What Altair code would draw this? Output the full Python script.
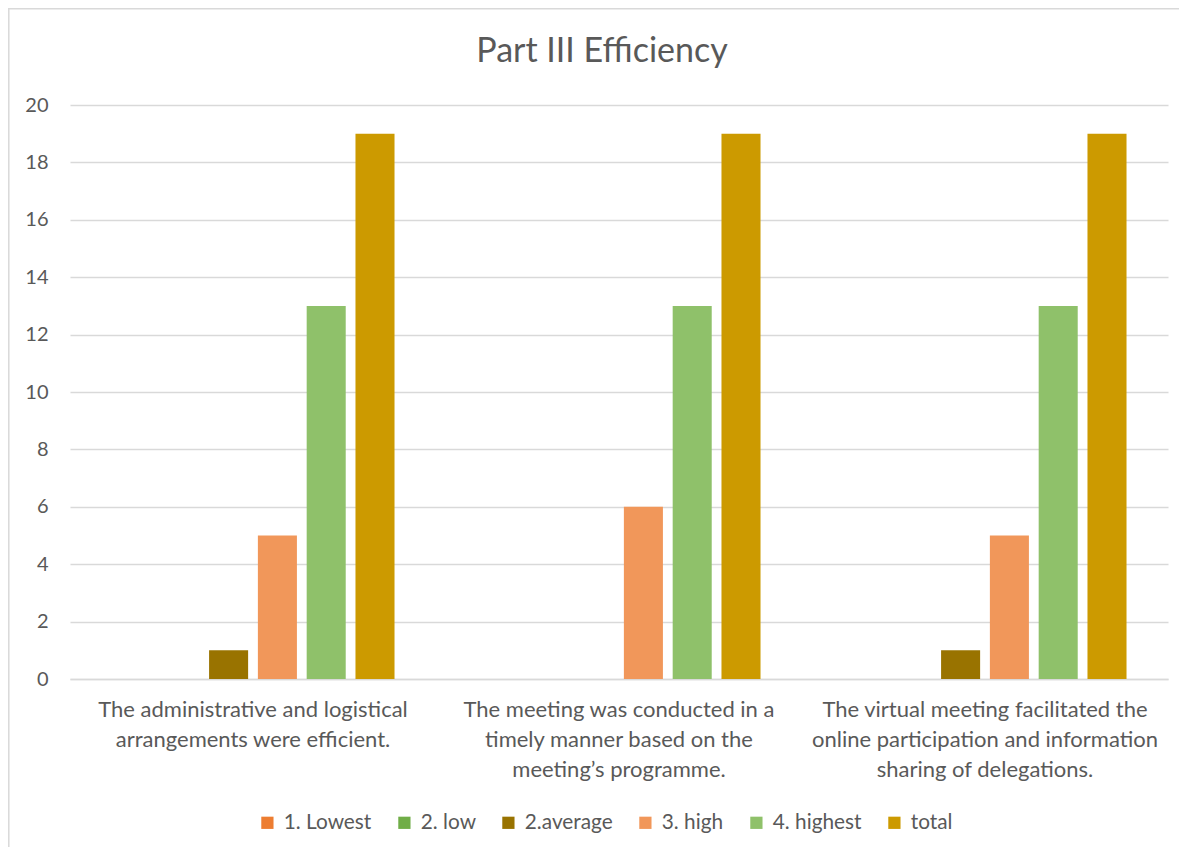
import altair as alt
import pandas as pd

category_lines = [
    ["The administrative and logistical", "arrangements were efficient."],
    ["The meeting was conducted in a", "timely manner based on the", "meeting\u2019s programme."],
    ["The virtual meeting facilitated the", "online participation and information", "sharing of delegations."],
]
categories = [" ".join(l) for l in category_lines]
series = ["1. Lowest", "2. low", "2.average", "3. high", "4. highest", "total"]
colors = ["#ED7D31", "#70AD47", "#997300", "#F1975A", "#8FC16A", "#CC9A00"]

v_lowest = [0, 0, 0]
v_low = [0, 0, 0]
v_average = [1, 0, 1]
v_high = [5, 6, 5]
v_highest = [13, 13, 13]
v_total = [19, 19, 19]

y_ticks = [0, 2, 4, 6, 8, 10, 12, 14, 16, 18, 20]

rows = []
for s, vals in zip(series, [v_lowest, v_low, v_average, v_high, v_highest, v_total]):
    for c, v in zip(categories, vals):
        rows.append({"category": c, "series": s, "value": v})
df = pd.DataFrame(rows)

label_map = "{" + ",".join(
    "'" + c.replace("'", "\\'") + "':[" + ",".join("'" + x.replace("'", "\\'") + "'" for x in l) + "]"
    for c, l in zip(categories, category_lines)
) + "}"

FONT = "Lato"
GREY = "#595959"
W, H = 1098, 574
PAD = {"left": 62, "top": 97, "right": 13, "bottom": 170}

bars = alt.Chart(df).mark_bar().encode(
    x=alt.X("category:N", sort=categories, title=None,
            scale=alt.Scale(paddingInner=0, paddingOuter=0),
            axis=alt.Axis(labelAngle=0, labelExpr=label_map + "[datum.label]",
                          labelFont=FONT, labelFontSize=22, labelColor=GREY,
                          labelPadding=20, labelLineHeight=30, ticks=False,
                          domainColor="#D9D9D9", domainWidth=1.3, labelLimit=400)),
    xOffset=alt.XOffset("series:N", sort=series,
                        scale=alt.Scale(paddingInner=0.2, paddingOuter=0.85)),
    y=alt.Y("value:Q", title=None,
            scale=alt.Scale(domain=[0, 20]),
            axis=alt.Axis(values=y_ticks, labelFont=FONT, labelFontSize=20,
                          labelColor=GREY, labelPadding=22, ticks=False,
                          domain=False, gridColor="#D9D9D9", gridWidth=1.3)),
    color=alt.Color("series:N", sort=series,
                    scale=alt.Scale(domain=series, range=colors),
                    legend=alt.Legend(title=None, orient="none", direction="horizontal",
                                      legendX=187, legendY=707,
                                      symbolType="square", symbolSize=150,
                                      symbolStrokeWidth=0,
                                      labelFont=FONT, labelFontSize=20.8, labelColor=GREY,
                                      labelOffset=6, columnPadding=22)),
)

one = pd.DataFrame({"a": [0]})
frame_left = alt.Chart(one).mark_rule(
    stroke="#D9D9D9", strokeWidth=1.5, clip=False
).encode(x=alt.value(-61.2), y=alt.value(-96.9), y2=alt.value(H + PAD["bottom"] - 2))
frame_top = alt.Chart(one).mark_rule(
    stroke="#D9D9D9", strokeWidth=1.5, clip=False
).encode(x=alt.value(-61.9), x2=alt.value(W + PAD["right"] - 2), y=alt.value(-96.2))

chart = alt.layer(frame_left, frame_top, bars).properties(
    width=W, height=H,
    title=alt.Title("Part III Efficiency", font=FONT, fontSize=34, fontWeight="normal",
                    color=GREY, anchor="middle", offset=0, dy=62, dx=-17),
    autosize=alt.AutoSizeParams(type="none"),
    padding=PAD,
).configure_view(stroke=None)

chart.save("out.html", embed_options={"renderer": "svg", "actions": False})
